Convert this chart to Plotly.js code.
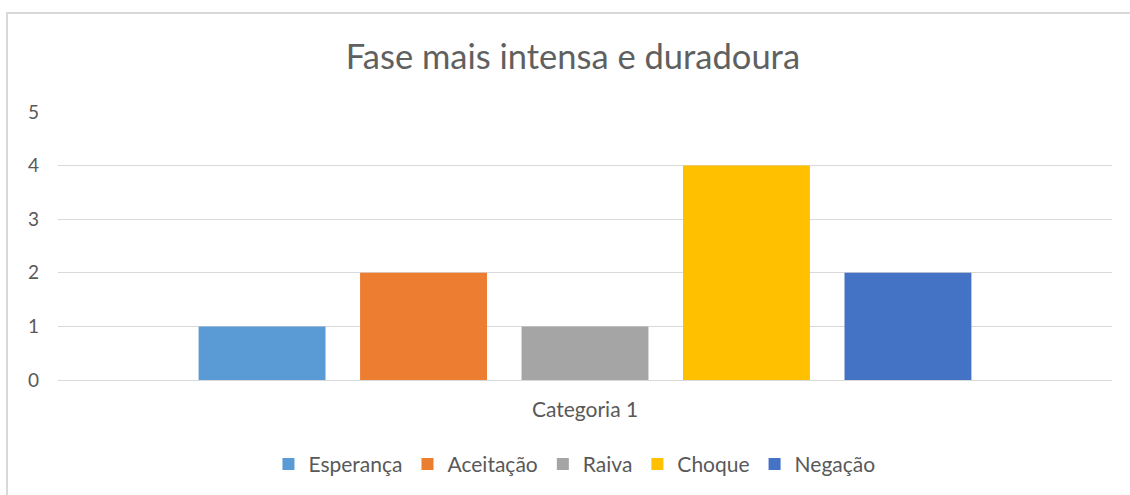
<!DOCTYPE html>
<html>
<head>
<meta charset="utf-8">
<script src="https://cdn.plot.ly/plotly-3.0.1.min.js"></script>
<style>
html,body{margin:0;padding:0;background:#fff;}
#frame{position:absolute;left:6px;top:12px;width:1124px;height:483px;border-left:2px solid #d9d9d9;border-top:2px solid #d9d9d9;box-sizing:border-box;}
#chart{position:absolute;left:0;top:0;width:1130px;height:495px;}
</style>
</head>
<body>
<div id="frame"></div>
<div id="chart"></div>
<script>
const categories = ["Categoria 1"];
const seriesNames = ["Esperança", "Aceitação", "Raiva", "Choque", "Negação"];
const seriesValues = [[1], [2], [1], [4], [2]];
const seriesColors = ["#5b9bd5", "#ed7d31", "#a5a5a5", "#ffc000", "#4472c4"];
const yTicks = [0, 1, 2, 3, 4, 5];

const FONT = "Lato, 'Open Sans', sans-serif";
const traces = seriesNames.map((name, i) => ({
  type: "bar",
  name: name,
  x: categories,
  y: seriesValues[i],
  marker: {color: seriesColors[i]},
  hoverinfo: "skip"
}));

const layout = {
  width: 1130,
  height: 495,
  paper_bgcolor: "rgba(0,0,0,0)",
  plot_bgcolor: "rgba(0,0,0,0)",
  margin: {l: 58, r: 18, t: 112, b: 114},
  title: {
    text: "Fase mais intensa e duradoura",
    font: {family: FONT, size: 34.5, color: "#606060"},
    x: 0.507, xanchor: "center",
    y: 0.885, yanchor: "middle"
  },
  font: {family: FONT, color: "#595959"},
  barmode: "group",
  bargap: 0.234,
  bargroupgap: 0.214,
  showlegend: true,
  legend: {
    orientation: "h",
    x: 0.49, xanchor: "center",
    y: -0.31, yanchor: "middle",
    font: {family: FONT, size: 21, color: "#595959"},
    itemwidth: 30,
    traceorder: "normal"
  },
  xaxis: {
    type: "category",
    showgrid: false,
    zeroline: false,
    showline: false,
    ticks: "",
    tickfont: {family: FONT, size: 21, color: "#595959"},
    ticklabelstandoff: 15
  },
  yaxis: {
    range: [0, 5],
    tickvals: yTicks,
    ticktext: yTicks.map(String),
    showgrid: true,
    gridcolor: "#d9d9d9",
    gridwidth: 1,
    zeroline: true,
    zerolinecolor: "#d9d9d9",
    zerolinewidth: 1,
    showline: false,
    ticks: "",
    tickfont: {family: FONT, size: 19, color: "#595959"},
    ticklabelstandoff: 18
  }
};

Plotly.newPlot("chart", traces, layout, {displayModeBar: false, staticPlot: true});
</script>
</body>
</html>
